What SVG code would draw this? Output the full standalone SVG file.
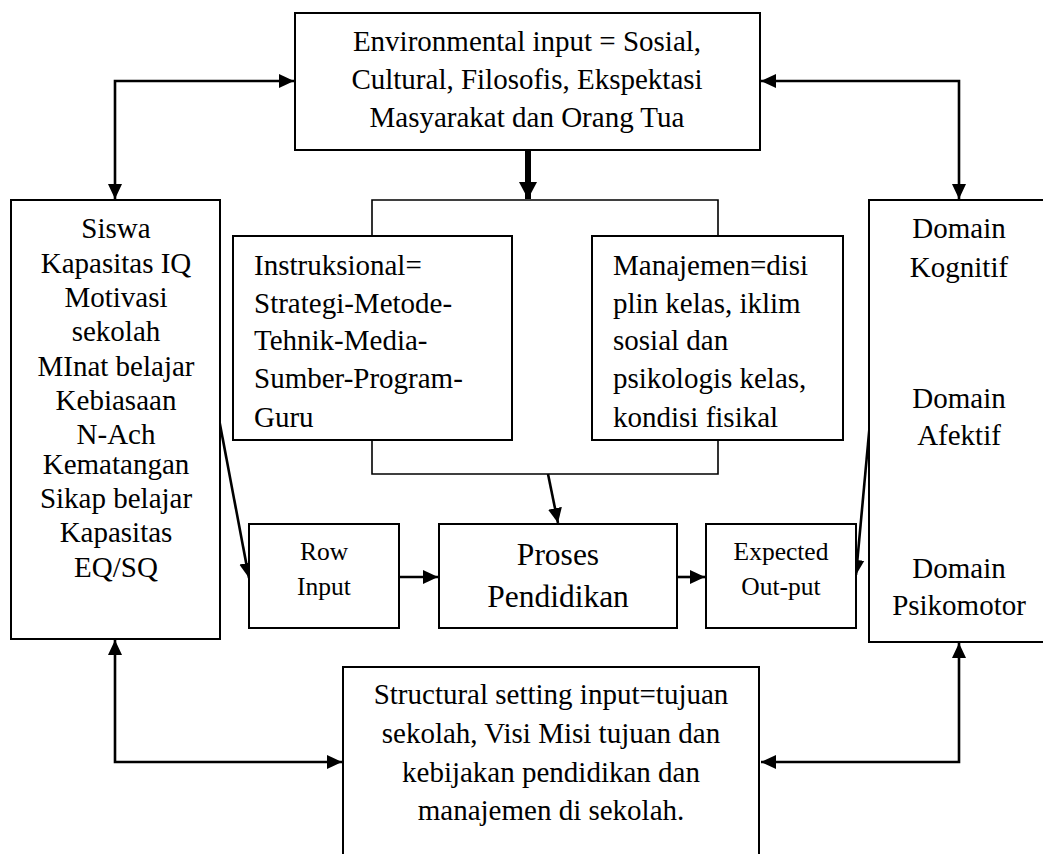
<svg xmlns="http://www.w3.org/2000/svg" width="1043" height="854" viewBox="0 0 1043 854">
<style>
.box{fill:#fff;stroke:#000;stroke-width:2}
.ln{fill:none;stroke:#000;stroke-width:1.6}
.c{fill:none;stroke:#000;stroke-width:2.6}
text{font-family:"Liberation Serif","Times New Roman",serif;fill:#000}
.t29{font-size:29px}
.t26{font-size:25.5px}
.t32{font-size:31.5px}
.m{text-anchor:middle}
</style>
<defs>
<marker id="ah" markerUnits="userSpaceOnUse" markerWidth="16" markerHeight="16" viewBox="0 0 16 16" refX="15" refY="8" orient="auto-start-reverse">
<path d="M0,1 L15,8 L0,15 Z" fill="#000"/>
</marker>
<marker id="ahb" markerUnits="userSpaceOnUse" markerWidth="18" markerHeight="18" viewBox="0 0 18 18" refX="17" refY="9" orient="auto">
<path d="M0,0 L17,9 L0,18 Z" fill="#000"/>
</marker>
</defs>
<rect width="1043" height="854" fill="#fff"/>

<g id="connectors">
<polyline class="c" points="294,81 115,81 115,199" marker-start="url(#ah)" marker-end="url(#ah)" />
<polyline class="c" points="761,81 959,81 959,199" marker-start="url(#ah)" marker-end="url(#ah)" />
<line x1="528" y1="150" x2="528" y2="199" stroke="#000" stroke-width="6" marker-end="url(#ahb)"/>
<polyline class="ln" points="372,236 372,200 718,200 718,236"/>
<polyline class="ln" points="372,440 372,474 718,474 718,440"/>
<line class="c" x1="548" y1="474" x2="558" y2="523" marker-end="url(#ah)"/>
<line class="c" x1="219" y1="419" x2="249" y2="578" marker-end="url(#ah)"/>
<line class="c" x1="870" y1="422" x2="856" y2="575" marker-end="url(#ah)"/>
<line class="c" x1="399" y1="577" x2="438" y2="577" marker-end="url(#ah)"/>
<line class="c" x1="677" y1="577" x2="705" y2="577" marker-end="url(#ah)"/>
<polyline class="c" points="115,640 115,762 342,762" marker-start="url(#ah)" marker-end="url(#ah)"/>
<polyline class="c" points="959,643 959,762 761,762" marker-start="url(#ah)" marker-end="url(#ah)"/>
</g>

<g id="env">
<rect class="box" x="295" y="13" width="465" height="137"/>
<text class="t29 m" x="527" y="51">Environmental input = Sosial,</text>
<text class="t29 m" x="527" y="89">Cultural, Filosofis, Ekspektasi</text>
<text class="t29 m" x="527" y="127">Masyarakat dan Orang Tua</text>
</g>

<g id="siswa">
<rect class="box" x="11" y="200" width="209" height="439"/>
<text class="t29 m" x="116" y="238">Siswa</text>
<text class="t29 m" x="116" y="273">Kapasitas IQ</text>
<text class="t29 m" x="116" y="307">Motivasi</text>
<text class="t29 m" x="116" y="341">sekolah</text>
<text class="t29 m" x="116" y="376">MInat belajar</text>
<text class="t29 m" x="116" y="410">Kebiasaan</text>
<text class="t29 m" x="116" y="444">N-Ach</text>
<text class="t29 m" x="116" y="474">Kematangan</text>
<text class="t29 m" x="116" y="508">Sikap belajar</text>
<text class="t29 m" x="116" y="542">Kapasitas</text>
<text class="t29 m" x="116" y="577">EQ/SQ</text>
</g>

<g id="instruksional">
<rect class="box" x="233" y="236" width="279" height="204"/>
<text class="t29" x="254" y="275">Instruksional=</text>
<text class="t29" x="254" y="313">Strategi-Metode-</text>
<text class="t29" x="254" y="350">Tehnik-Media-</text>
<text class="t29" x="254" y="388">Sumber-Program-</text>
<text class="t29" x="254" y="427">Guru</text>
</g>

<g id="manajemen">
<rect class="box" x="592" y="236" width="251" height="204"/>
<text class="t29" x="613" y="275">Manajemen=disi</text>
<text class="t29" x="613" y="313">plin kelas, iklim</text>
<text class="t29" x="613" y="350">sosial dan</text>
<text class="t29" x="613" y="388">psikologis kelas,</text>
<text class="t29" x="613" y="427">kondisi fisikal</text>
</g>

<g id="domain">
<rect class="box" x="869" y="200" width="180" height="442"/>
<text class="t29 m" x="959" y="238">Domain</text>
<text class="t29 m" x="959" y="277">Kognitif</text>
<text class="t29 m" x="959" y="408">Domain</text>
<text class="t29 m" x="959" y="445">Afektif</text>
<text class="t29 m" x="959" y="578">Domain</text>
<text class="t29 m" x="959" y="615">Psikomotor</text>
</g>

<g id="row-input">
<rect class="box" x="249" y="524" width="150" height="104"/>
<text class="t26 m" x="324" y="560">Row</text>
<text class="t26 m" x="324" y="595">Input</text>
</g>

<g id="proses">
<rect class="box" x="439" y="524" width="238" height="104"/>
<text class="t32 m" x="558" y="565">Proses</text>
<text class="t32 m" x="558" y="607">Pendidikan</text>
</g>

<g id="expected">
<rect class="box" x="706" y="524" width="150" height="104"/>
<text class="t26 m" x="781" y="560">Expected</text>
<text class="t26 m" x="781" y="595">Out-put</text>
</g>

<g id="structural">
<path class="box" d="M343,860 L343,667 L759,667 L759,860"/>
<text class="t29 m" x="551" y="704">Structural setting input=tujuan</text>
<text class="t29 m" x="551" y="743">sekolah, Visi Misi tujuan dan</text>
<text class="t29 m" x="551" y="782">kebijakan pendidikan dan</text>
<text class="t29 m" x="551" y="820">manajemen di sekolah.</text>
</g>
</svg>
